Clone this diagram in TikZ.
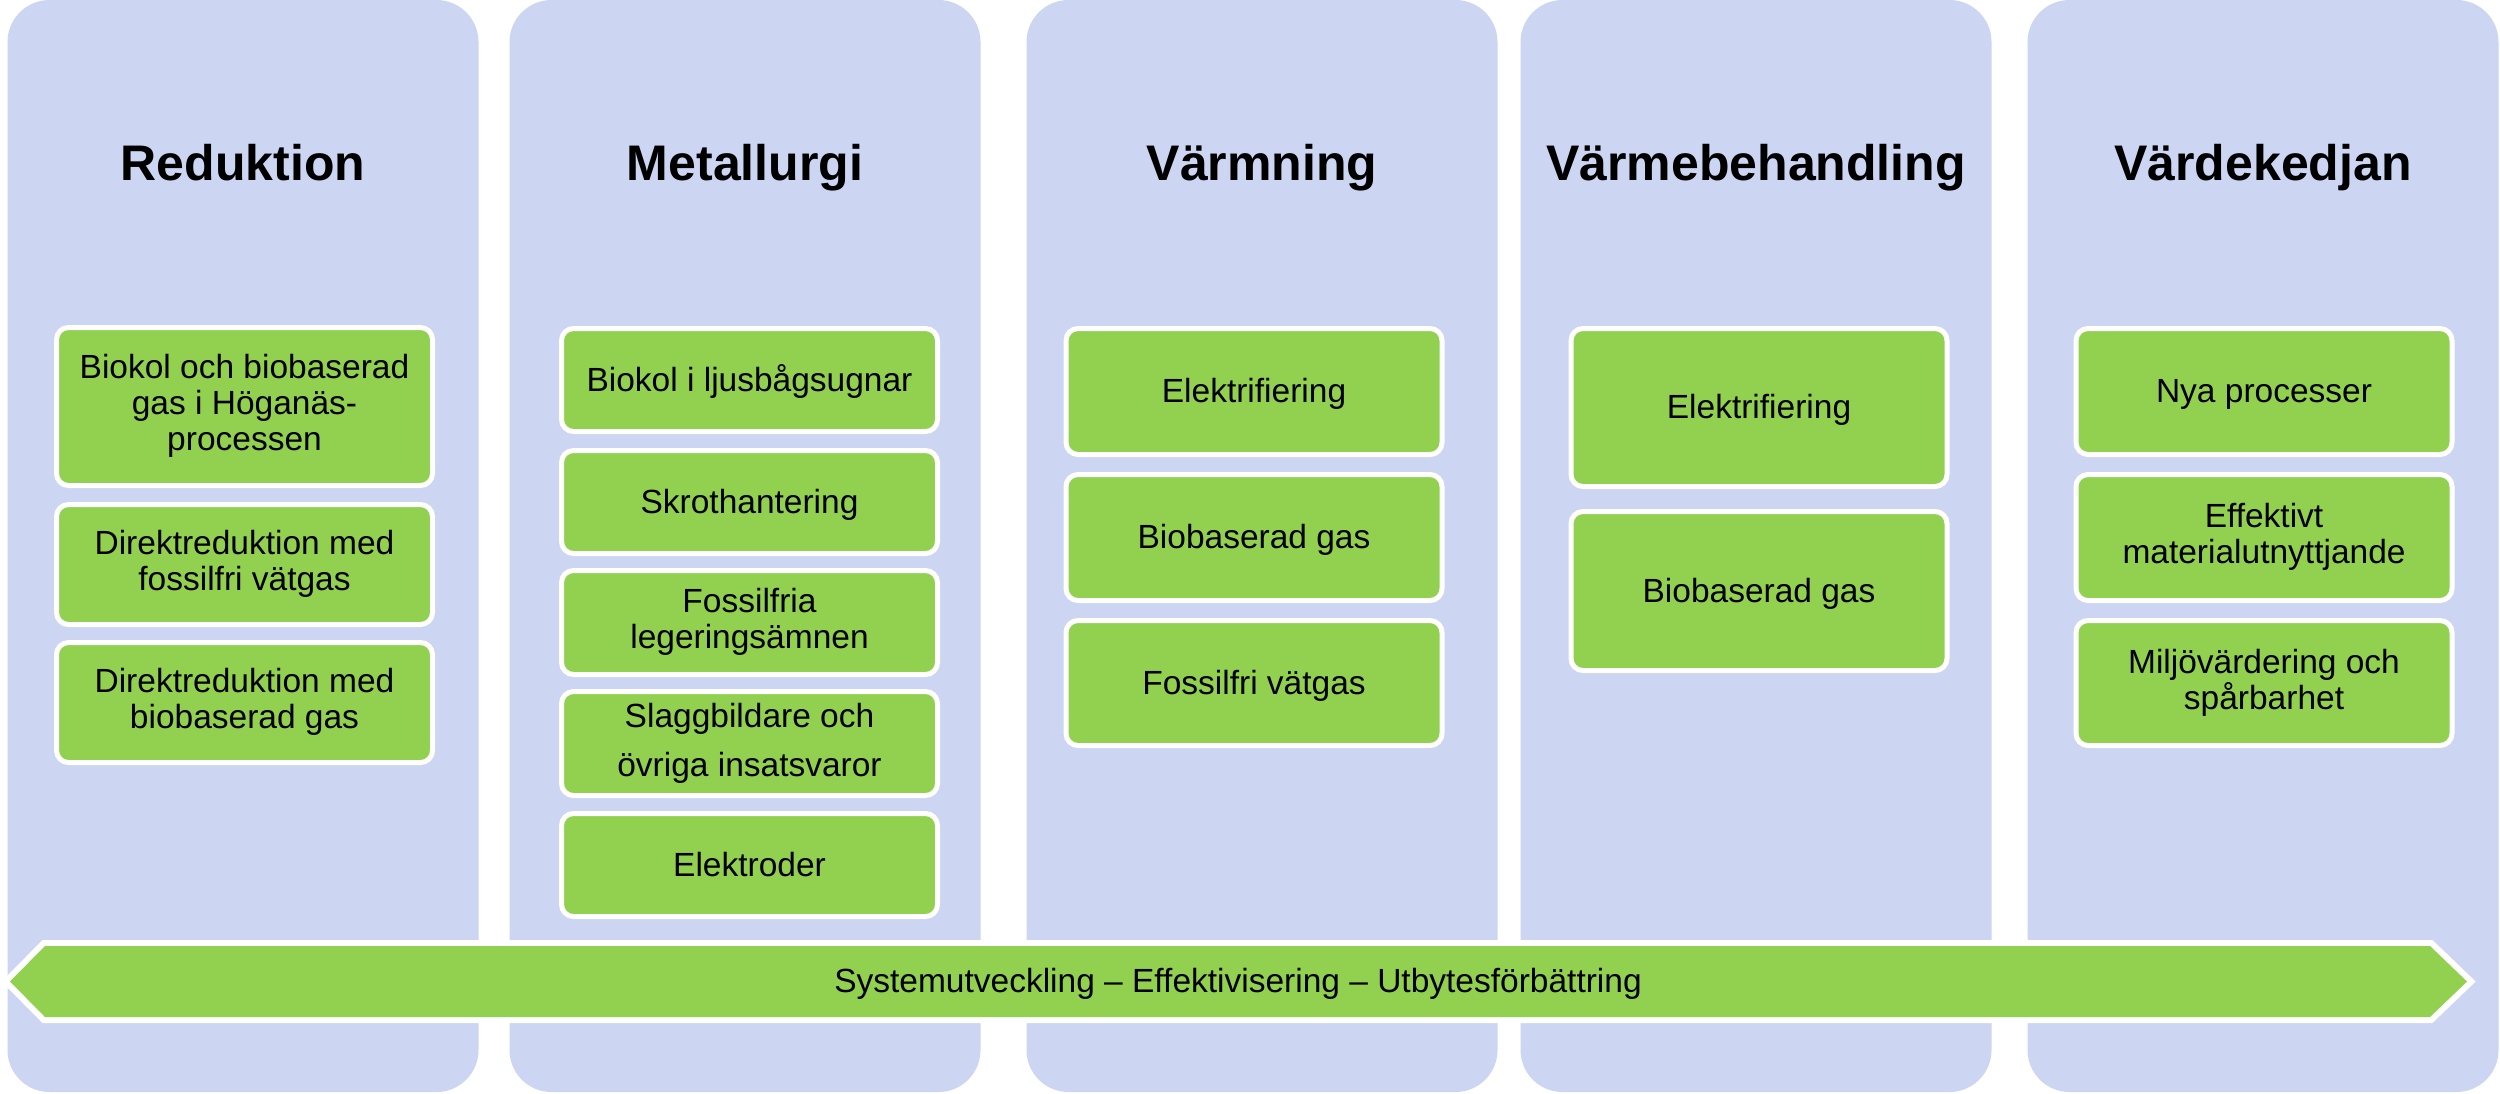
\documentclass[tikz,border=0pt]{standalone}
\usepackage{fontspec}
\setmainfont{Liberation Sans}
\definecolor{lav}{RGB}{204,213,242}
\definecolor{grn}{RGB}{146,208,80}
\newcommand\topstrut{\rule{0pt}{30pt}}
\newcommand\botstrut{\rule[-8pt]{0pt}{8pt}}
\begin{document}
\begin{tikzpicture}[x=1pt,y=-1pt,
  colbox/.style={fill=lav, draw=none, rounded corners=42pt, minimum width=471pt, minimum height=1092pt, inner sep=0pt},
  coltitle/.style={font=\bfseries\fontsize{50}{60}\selectfont, anchor=base, inner sep=0pt},
  item/.style={fill=grn, draw=white, line width=5pt, rounded corners=12pt, minimum width=376pt, align=center,
    font=\fontsize{33.5}{36}\selectfont, inner sep=0pt, execute at begin node=\topstrut, execute at end node=\botstrut},
  bandtext/.style={font=\fontsize{33.5}{36}\selectfont, inner sep=0pt, execute at begin node=\topstrut, execute at end node=\botstrut}
]
\useasboundingbox (0,0) rectangle (2500,1093);

% columns
\node[colbox] (c1) at (243,546) {};
\node[colbox] (c2) at (745,546) {};
\node[colbox] (c3) at (1262,546) {};
\node[colbox] (c4) at (1756,546) {};
\node[colbox] (c5) at (2263,546) {};

% titles
\node[coltitle] (t1) at (243,180) {Reduktion};
\node[coltitle] (t2) at (745,180) {Metallurgi};
\node[coltitle] (t3) at (1262,180) {Värmning};
\node[coltitle] (t4) at (1756,180) {Värmebehandling};
\node[coltitle] (t5) at (2263,180) {Värdekedjan};

% column 1
\node[item, minimum height=158pt] (a1) at (244.5,406.5) {Biokol och biobaserad\\gas i Höganäs-\\processen};
\node[item, minimum height=120pt] (a2) at (244.5,564.5) {Direktreduktion med\\fossilfri vätgas};
\node[item, minimum height=120pt] (a3) at (244.5,702.5) {Direktreduktion med\\biobaserad gas};

% column 2
\node[item, minimum height=103pt] (b1) at (749.5,380) {Biokol i ljusbågsugnar};
\node[item, minimum height=103pt] (b2) at (749.5,502) {Skrothantering};
\node[item, minimum height=104pt] (b3) at (749.5,622.5) {Fossilfria\\legeringsämnen};
\node[item, minimum height=104pt] (b4) at (749.5,743.5) {Slaggbildare och\\[13pt]övriga insatsvaror};
\node[item, minimum height=103pt] (b5) at (749.5,865) {Elektroder};

% column 3
\node[item, minimum height=126pt] (d1) at (1254,391.5) {Elektrifiering};
\node[item, minimum height=126pt] (d2) at (1254,537.5) {Biobaserad gas};
\node[item, minimum height=125pt] (d3) at (1254,683) {Fossilfri vätgas};

% column 4
\node[item, minimum height=158pt] (e1) at (1759,407.5) {Elektrifiering};
\node[item, minimum height=159pt] (e2) at (1759,591) {Biobaserad gas};

% column 5
\node[item, minimum height=126pt] (f1) at (2264,391.5) {Nya processer};
\node[item, minimum height=126pt] (f2) at (2264,537.5) {Effektivt\\materialutnyttjande};
\node[item, minimum height=125pt] (f3) at (2264,683) {Miljövärdering och\\spårbarhet};

% double arrow band
\path[fill=white, draw=white, line width=12pt, line join=miter]
  (10,981.5) -- (45,946) -- (2430,946) -- (2467,981.5) -- (2430,1017) -- (45,1017) -- cycle;
\fill[grn]
  (10,981.5) -- (45,946) -- (2430,946) -- (2467,981.5) -- (2430,1017) -- (45,1017) -- cycle;
\node[bandtext] (band) at (1238,981.5) {Systemutveckling – Effektivisering – Utbytesförbättring};
\end{tikzpicture}
\end{document}
